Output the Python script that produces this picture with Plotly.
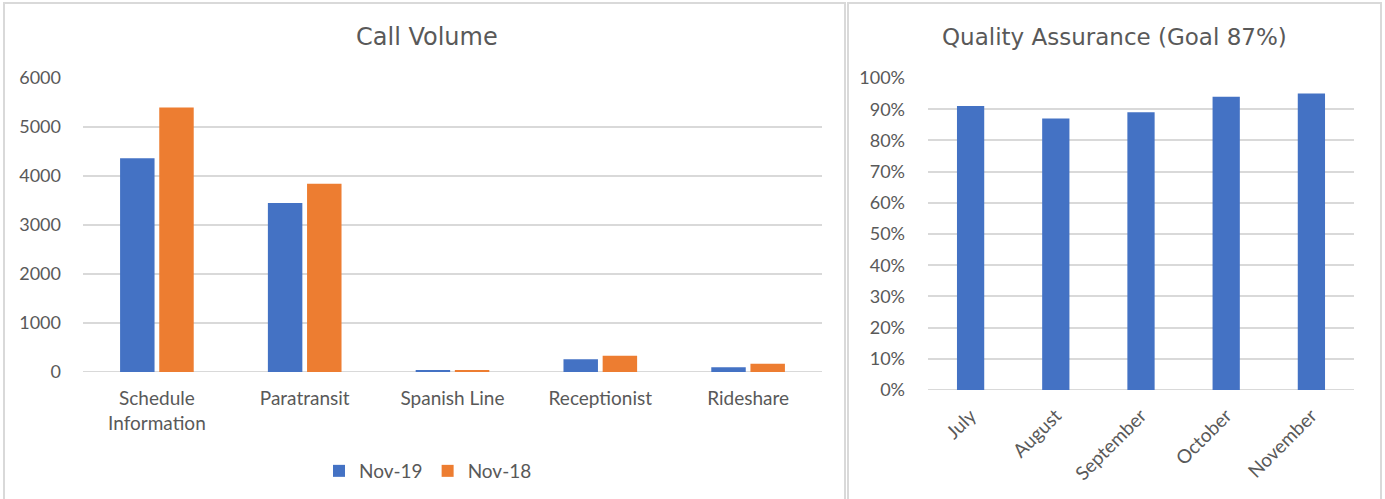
import plotly.graph_objects as go

W, H = 1385, 499

# ---- data ----
call_categories = ["Schedule<br>Information", "Paratransit", "Spanish Line", "Receptionist", "Rideshare"]
nov19 = [4360, 3450, 35, 260, 95]
nov18 = [5400, 3840, 30, 330, 170]
call_ticks = [0, 1000, 2000, 3000, 4000, 5000, 6000]

qa_months = ["July", "August", "September", "October", "November"]
qa_values = [0.91, 0.87, 0.89, 0.94, 0.95]

BLUE = "#4472C4"
ORANGE = "#ED7D31"
TXT = "#595959"
GRID = "#d9d9d9"
FONT = "Lato, 'Open Sans', sans-serif"
TFONT = "'DejaVu Sans', sans-serif"

def px(x):
    return x / W

def py(y):
    return (H - y) / H

fig = go.Figure()
fig.add_trace(go.Bar(name="Nov-19", x=call_categories, y=nov19, marker_color=BLUE,
                     xaxis="x", yaxis="y"))
fig.add_trace(go.Bar(name="Nov-18", x=call_categories, y=nov18, marker_color=ORANGE,
                     xaxis="x", yaxis="y"))
fig.add_trace(go.Bar(name="QA", x=qa_months, y=qa_values, marker_color=BLUE,
                     xaxis="x2", yaxis="y2", showlegend=False, width=0.32))

axis_common = dict(showline=False, zeroline=False, ticks="", automargin=False, fixedrange=True)
xfont = dict(family=FONT, size=19, color=TXT)
yfont = dict(family=FONT, size=18, color=TXT)

fig.update_layout(
    template="none",
    width=W, height=H,
    margin=dict(l=0, r=0, t=0, b=0, pad=0),
    paper_bgcolor="white", plot_bgcolor="white",
    barmode="group", bargap=0.47, bargroupgap=0.12,
    font=dict(family=FONT, color=TXT),
    xaxis=dict(domain=[px(83), px(822)], anchor="y", showgrid=False,
               ticklabelstandoff=13, tickfont=xfont, **axis_common),
    yaxis=dict(domain=[py(372), py(78)], anchor="x", range=[0, 6000],
               tickvals=call_ticks, showgrid=True, gridcolor=GRID, gridwidth=2,
               ticklabelstandoff=21, tickfont=yfont, **axis_common),
    xaxis2=dict(domain=[px(928), px(1354)], anchor="y2", showgrid=False,
                tickangle=-45, ticklabelstandoff=10, tickfont=xfont, **axis_common),
    yaxis2=dict(domain=[py(390), py(78)], anchor="x2", range=[0, 1.0],
                dtick=0.1, tickformat=".0%", showgrid=True, gridcolor=GRID, gridwidth=2,
                ticklabelstandoff=22, tickfont=yfont, **axis_common),
    legend=dict(orientation="h", x=px(428), xanchor="center", y=py(471), yanchor="middle",
                font=dict(family=FONT, size=19, color=TXT), traceorder="normal",
                itemwidth=30, bgcolor="rgba(0,0,0,0)"),
    showlegend=True,
)

# baseline lines (gridline at 0)
fig.add_shape(type="line", xref="x domain", yref="y", x0=0, x1=1, y0=0, y1=0,
              line=dict(color=GRID, width=2), layer="below")
fig.add_shape(type="line", xref="x2 domain", yref="y2", x0=0, x1=1, y0=0, y1=0,
              line=dict(color=GRID, width=2), layer="below")

# panel borders
fig.add_shape(type="rect", xref="paper", yref="paper", x0=px(4), x1=px(845), y0=-0.05, y1=py(3),
              line=dict(color=GRID, width=2), fillcolor="rgba(0,0,0,0)", layer="below")
fig.add_shape(type="rect", xref="paper", yref="paper", x0=px(848), x1=px(1381), y0=-0.05, y1=py(3),
              line=dict(color=GRID, width=2), fillcolor="rgba(0,0,0,0)", layer="below")

# titles
fig.add_annotation(text="Call Volume", xref="paper", yref="paper", x=px(427), y=py(37),
                   xanchor="center", yanchor="middle", showarrow=False,
                   font=dict(family=TFONT, size=24, color=TXT))
fig.add_annotation(text="Quality Assurance (Goal 87%)", xref="paper", yref="paper",
                   x=px(1114), y=py(37), xanchor="center", yanchor="middle", showarrow=False,
                   font=dict(family=TFONT, size=23, color=TXT))

fig.write_html("out.html", config={"displayModeBar": False},
               post_script="document.body.style.margin='0';document.body.style.padding='0';")
